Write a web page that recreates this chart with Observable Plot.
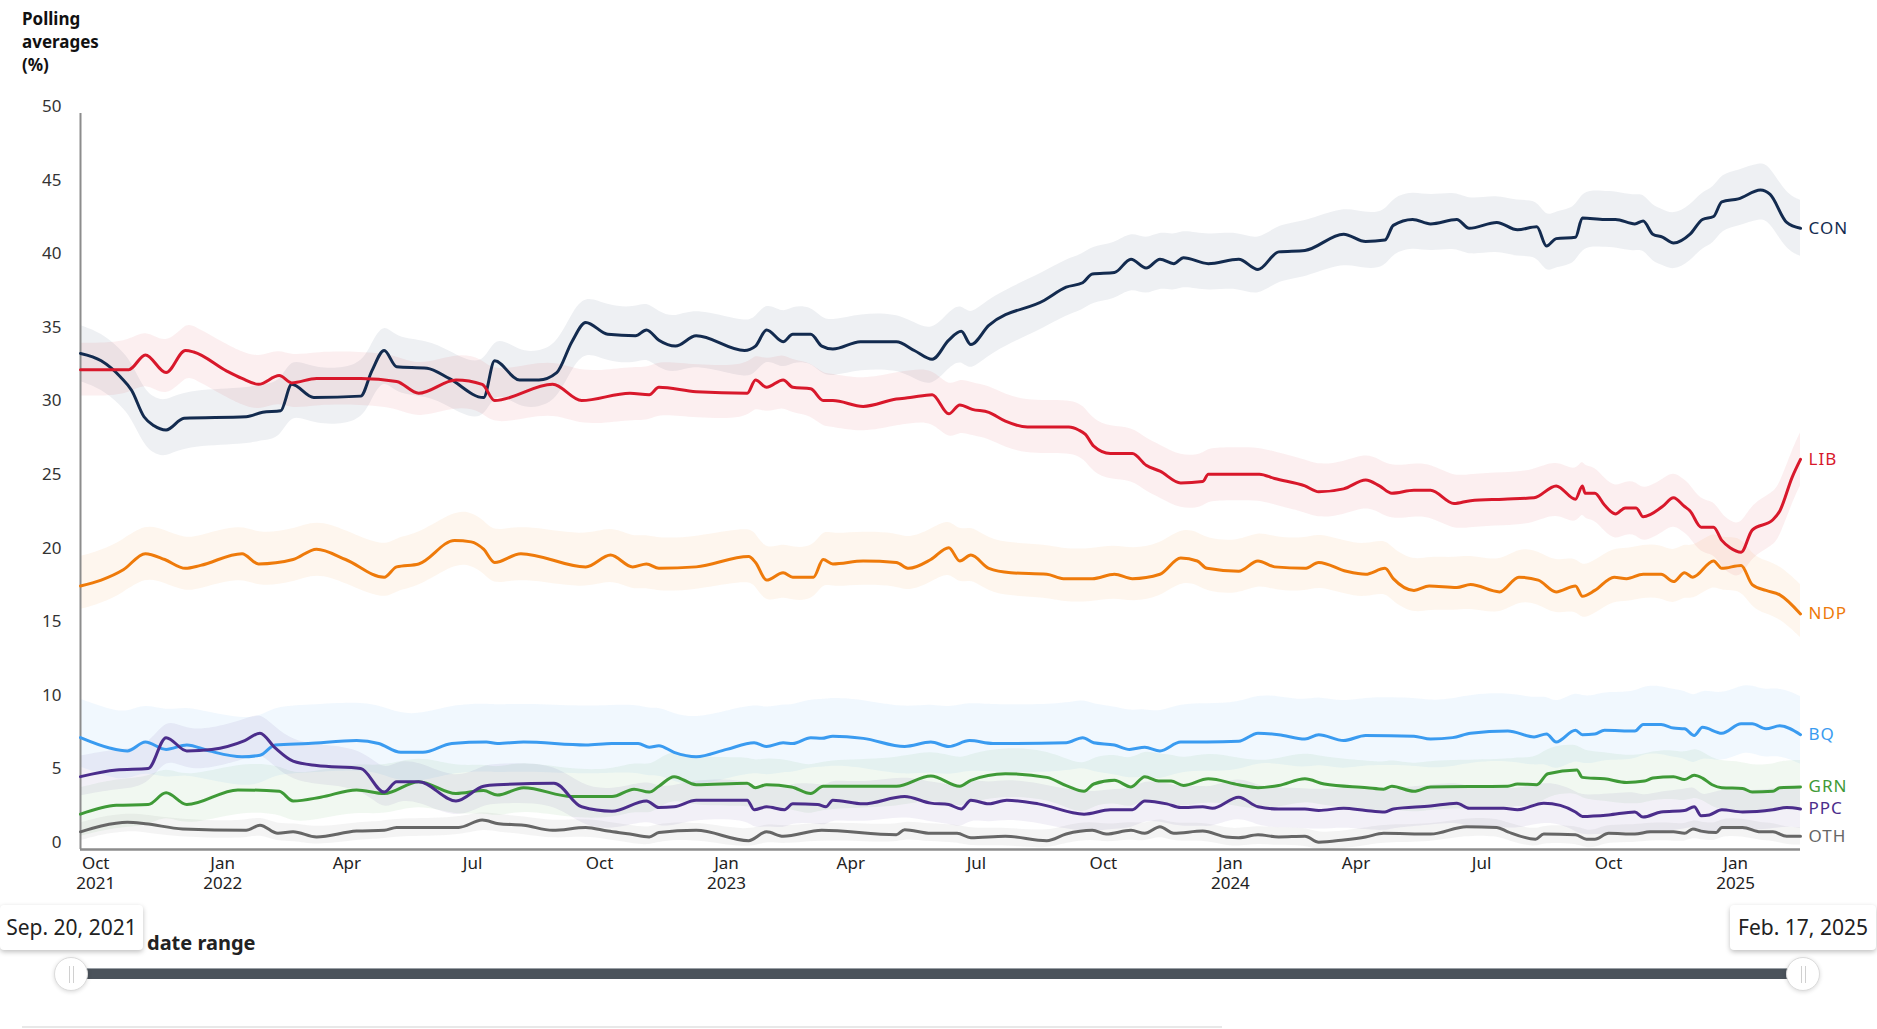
<!DOCTYPE html>
<html>
<head>
<meta charset="utf-8">
<script src="https://cdn.jsdelivr.net/npm/d3@7"></script>
<script src="https://cdn.jsdelivr.net/npm/@observablehq/plot@0.6"></script>
<style>
  html, body { margin:0; padding:0; background:#fff; }
  body { width:1877px; height:1029px; overflow:hidden; position:relative; font-family:"Noto Sans", sans-serif; }
  #title { position:absolute; left:22px; top:7px; font-weight:700; font-size:17px; line-height:23px; color:#111; }
  #chart { position:absolute; left:0; top:92px; }
  #rangeLabel { position:absolute; left:147px; top:929px; font-weight:700; font-size:20px; color:#222; }
  #track { position:absolute; left:70px; top:968px; width:1733px; height:11px; background:#4b535b; border-top:1px solid #9aa0a6; box-sizing:border-box; }
  .handle { position:absolute; width:34px; height:34px; border-radius:50%; background:#fff; border:1px solid #dcdcdc; box-shadow:0 1px 4px rgba(0,0,0,0.15); box-sizing:border-box; }
  .handle::before, .handle::after { content:""; position:absolute; top:8px; width:1px; height:17px; background:#d0d0d0; }
  .handle::before { left:14px; } .handle::after { left:18px; }
  .tip { position:absolute; top:905px; height:45px; background:#fff; border-radius:4px; box-shadow:0 2px 5px rgba(0,0,0,0.25); font-size:21px; color:#222; line-height:45px; text-align:center; white-space:nowrap; }
  #bottomLine { position:absolute; left:22px; top:1026px; width:1200px; height:2px; background:#e8e8e8; }
</style>
</head>
<body>
<div id="title">Polling<br>averages<br>(%)</div>
<div id="chart"></div>
<div id="rangeLabel">date range</div>
<div id="track"></div>
<div class="handle" style="left:54px; top:957px;"></div>
<div class="handle" style="left:1786px; top:957px;"></div>
<div class="tip" style="left:0; width:143px;">Sep. 20, 2021</div>
<div class="tip" style="left:1730px; width:146px;">Feb. 17, 2025</div>
<div id="bottomLine"></div>
<script>
const parties = ["CON","LIB","NDP","BQ","GRN","PPC","OTH"];
const partyColors = ["#132b4f","#d8182b","#ee7a0a","#3a9bf0","#3f9a37","#4b2d8b","#666666"];
const bandUp = [1.9, 1.8, 2.0, 2.6, 1.8, 1.4, 0.6];
const bandDown = [1.9, 1.8, 1.6, 2.0, 1.5, 1.3, 0.6];
const yTicks = [0,5,10,15,20,25,30,35,40,45,50];
const xTicks = ["2021-10-01","2022-01-01","2022-04-01","2022-07-01","2022-10-01","2023-01-01","2023-04-01","2023-07-01","2023-10-01","2024-01-01","2024-04-01","2024-07-01","2024-10-01","2025-01-01"];
const dateRange = ["2021-09-20","2025-02-17"];

const CON = [["2021-09-20",33.7],["2021-10-05",33.2],["2021-10-19",32.1],["2021-10-27",31.2],["2021-11-05",29.4],["2021-11-12",28.8],["2021-11-21",28.5],["2021-12-04",29.3],["2022-01-18",29.4],["2022-01-30",29.7],["2022-02-12",29.8],["2022-02-20",31.6],["2022-03-08",30.7],["2022-04-11",30.8],["2022-04-19",32.5],["2022-04-28",33.9],["2022-05-07",32.8],["2022-05-29",32.7],["2022-06-14",32.0],["2022-07-09",30.7],["2022-07-17",33.2],["2022-08-04",31.9],["2022-08-18",31.9],["2022-08-31",32.4],["2022-09-11",34.5],["2022-09-21",35.8],["2022-10-07",35.0],["2022-10-27",34.9],["2022-11-04",35.3],["2022-11-13",34.6],["2022-11-25",34.2],["2022-12-10",34.9],["2023-01-14",33.9],["2023-01-22",34.2],["2023-01-30",35.3],["2023-02-11",34.5],["2023-02-18",35.0],["2023-03-03",35.0],["2023-03-11",34.2],["2023-03-19",34.0],["2023-04-08",34.5],["2023-05-04",34.5],["2023-05-17",33.9],["2023-05-30",33.3],["2023-06-11",34.6],["2023-06-20",35.2],["2023-06-27",34.3],["2023-07-10",35.6],["2023-08-19",37.3],["2023-09-04",38.2],["2023-09-16",38.5],["2023-09-23",39.1],["2023-10-09",39.2],["2023-10-21",40.1],["2023-11-01",39.5],["2023-11-11",40.1],["2023-11-21",39.8],["2023-11-28",40.2],["2023-12-16",39.8],["2024-01-07",40.1],["2024-01-21",39.4],["2024-02-05",40.6],["2024-02-24",40.7],["2024-03-23",41.8],["2024-04-08",41.3],["2024-04-22",41.4],["2024-04-28",42.4],["2024-05-12",42.8],["2024-05-25",42.5],["2024-06-13",42.8],["2024-06-22",42.2],["2024-07-12",42.6],["2024-07-27",42.1],["2024-08-10",42.3],["2024-08-17",41.0],["2024-08-24",41.5],["2024-09-07",41.6],["2024-09-12",42.9],["2024-09-28",42.8],["2024-10-06",42.8],["2024-10-20",42.5],["2024-10-26",42.7],["2024-11-02",41.8],["2024-11-09",41.6],["2024-11-17",41.2],["2024-11-29",41.8],["2024-12-08",42.8],["2024-12-16",43.0],["2024-12-22",44.0],["2025-01-03",44.2],["2025-01-19",44.8],["2025-01-26",44.5],["2025-02-07",42.6],["2025-02-17",42.2]];

const LIB = [["2021-09-20",32.6],["2021-10-25",32.6],["2021-11-06",33.6],["2021-11-21",32.4],["2021-12-05",33.9],["2021-12-11",33.8],["2022-01-04",32.5],["2022-01-15",32.0],["2022-01-27",31.6],["2022-02-11",32.2],["2022-02-20",31.7],["2022-03-10",32.0],["2022-04-11",32.0],["2022-05-07",31.8],["2022-05-23",31.0],["2022-06-19",31.9],["2022-07-08",31.6],["2022-07-17",30.5],["2022-08-28",31.6],["2022-09-18",30.5],["2022-10-23",31.0],["2022-11-06",30.9],["2022-11-13",31.4],["2022-12-10",31.1],["2023-01-16",31.0],["2023-01-22",31.9],["2023-01-30",31.4],["2023-02-11",31.9],["2023-02-18",31.4],["2023-03-03",31.3],["2023-03-12",30.5],["2023-03-19",30.5],["2023-04-10",30.1],["2023-05-04",30.6],["2023-05-14",30.7],["2023-05-30",30.9],["2023-06-11",29.6],["2023-06-19",30.2],["2023-06-28",29.9],["2023-07-10",29.7],["2023-07-22",29.1],["2023-08-07",28.7],["2023-08-21",28.7],["2023-09-06",28.7],["2023-09-13",28.5],["2023-09-18",28.2],["2023-09-24",27.4],["2023-10-06",26.9],["2023-10-22",26.9],["2023-11-01",26.1],["2023-11-11",25.7],["2023-11-26",24.9],["2023-12-12",25.0],["2023-12-16",25.5],["2024-01-07",25.5],["2024-01-22",25.5],["2024-02-02",25.2],["2024-02-24",24.7],["2024-03-05",24.3],["2024-03-23",24.5],["2024-04-08",25.1],["2024-04-18",24.7],["2024-04-27",24.2],["2024-05-13",24.4],["2024-05-25",24.4],["2024-06-11",23.5],["2024-06-23",23.7],["2024-07-17",23.8],["2024-08-08",23.9],["2024-08-24",24.7],["2024-09-07",23.8],["2024-09-12",24.7],["2024-09-14",24.2],["2024-09-21",24.2],["2024-09-28",23.4],["2024-10-06",22.8],["2024-10-13",23.2],["2024-10-21",23.2],["2024-10-26",22.6],["2024-11-09",23.3],["2024-11-17",23.9],["2024-11-25",23.3],["2024-11-29",23.0],["2024-12-07",21.9],["2024-12-16",21.9],["2024-12-22",21.0],["2024-12-28",20.5],["2025-01-05",20.2],["2025-01-13",21.7],["2025-01-28",22.4],["2025-02-02",23.0],["2025-02-11",25.3],["2025-02-17",26.5]];

const NDP = [["2021-09-20",17.9],["2021-10-05",18.3],["2021-10-21",19.0],["2021-11-06",20.1],["2021-11-20",19.7],["2021-12-05",19.1],["2021-12-16",19.3],["2022-01-15",20.1],["2022-01-27",19.4],["2022-02-21",19.7],["2022-03-10",20.4],["2022-03-31",19.7],["2022-04-28",18.5],["2022-05-07",19.2],["2022-05-23",19.4],["2022-06-18",21.0],["2022-06-30",20.9],["2022-07-09",20.4],["2022-07-17",19.5],["2022-08-05",20.1],["2022-09-21",19.2],["2022-10-09",20.0],["2022-10-25",19.2],["2022-11-04",19.4],["2022-11-13",19.1],["2022-12-10",19.2],["2023-01-17",19.9],["2023-01-22",19.5],["2023-01-30",18.3],["2023-02-11",18.8],["2023-02-18",18.5],["2023-03-05",18.5],["2023-03-12",19.7],["2023-03-19",19.4],["2023-04-10",19.6],["2023-05-04",19.5],["2023-05-13",19.1],["2023-05-29",19.7],["2023-06-11",20.5],["2023-06-19",19.6],["2023-06-27",20.0],["2023-07-10",19.1],["2023-07-26",18.8],["2023-08-21",18.7],["2023-09-02",18.4],["2023-09-23",18.4],["2023-10-09",18.7],["2023-10-22",18.4],["2023-11-11",18.7],["2023-11-26",19.8],["2023-12-08",19.6],["2023-12-15",19.1],["2024-01-07",18.9],["2024-01-21",19.6],["2024-02-02",19.2],["2024-02-24",19.1],["2024-03-05",19.5],["2024-03-25",18.9],["2024-04-08",18.7],["2024-04-22",19.1],["2024-04-28",18.4],["2024-05-13",17.6],["2024-05-24",17.9],["2024-06-13",17.8],["2024-06-23",18.0],["2024-07-14",17.5],["2024-07-28",18.5],["2024-08-11",18.3],["2024-08-24",17.5],["2024-09-07",17.9],["2024-09-12",17.2],["2024-09-21",17.6],["2024-10-05",18.5],["2024-10-14",18.4],["2024-10-26",18.7],["2024-11-08",18.7],["2024-11-17",18.2],["2024-11-25",18.8],["2024-12-01",18.5],["2024-12-16",19.6],["2024-12-22",19.1],["2025-01-05",19.3],["2025-01-13",18.0],["2025-01-23",17.6],["2025-02-02",17.3],["2025-02-17",16.0]];

const BQ = [["2021-09-20",7.6],["2021-10-11",6.9],["2021-10-24",6.7],["2021-11-06",7.3],["2021-11-21",6.8],["2021-12-06",7.1],["2021-12-22",6.7],["2022-01-15",6.3],["2022-01-28",6.4],["2022-02-08",7.1],["2022-03-04",7.2],["2022-04-08",7.4],["2022-04-24",7.2],["2022-05-10",6.6],["2022-05-26",6.6],["2022-06-16",7.2],["2022-07-11",7.3],["2022-07-19",7.2],["2022-08-07",7.3],["2022-09-21",7.1],["2022-10-10",7.2],["2022-10-29",7.2],["2022-11-06",6.95],["2022-11-13",7.05],["2022-11-24",6.6],["2022-12-10",6.3],["2023-01-01",6.8],["2023-01-21",7.25],["2023-01-30",7.0],["2023-02-11",7.25],["2023-02-18",7.2],["2023-03-03",7.6],["2023-03-11",7.55],["2023-03-19",7.7],["2023-04-10",7.55],["2023-05-10",7.0],["2023-05-29",7.3],["2023-06-11",7.0],["2023-06-26",7.4],["2023-07-13",7.2],["2023-09-04",7.25],["2023-09-16",7.6],["2023-09-24",7.25],["2023-10-09",7.1],["2023-10-20",6.8],["2023-10-31",6.95],["2023-11-11",6.7],["2023-11-26",7.3],["2023-12-15",7.3],["2024-01-07",7.35],["2024-01-21",7.9],["2024-02-05",7.8],["2024-02-24",7.5],["2024-03-05",7.8],["2024-03-23",7.4],["2024-04-08",7.75],["2024-05-13",7.7],["2024-05-25",7.5],["2024-06-10",7.6],["2024-06-23",7.9],["2024-07-20",8.05],["2024-08-08",7.65],["2024-08-17",7.85],["2024-08-24",7.3],["2024-09-07",8.1],["2024-09-12",7.8],["2024-09-21",7.85],["2024-09-28",8.1],["2024-10-20",8.05],["2024-10-26",8.5],["2024-11-08",8.5],["2024-11-17",8.25],["2024-11-25",8.2],["2024-12-02",7.75],["2024-12-08",8.3],["2024-12-22",7.9],["2025-01-05",8.55],["2025-01-13",8.55],["2025-01-23",8.2],["2025-02-02",8.4],["2025-02-17",7.8]];

const GRN = [["2021-09-20",2.4],["2021-10-16",3.0],["2021-11-08",3.05],["2021-11-21",3.85],["2021-12-06",3.05],["2022-01-12",4.05],["2022-02-11",3.95],["2022-02-21",3.3],["2022-03-13",3.55],["2022-04-08",4.05],["2022-04-28",3.8],["2022-05-23",4.6],["2022-06-19",3.8],["2022-07-09",4.0],["2022-07-19",3.7],["2022-08-07",4.2],["2022-09-11",3.6],["2022-10-10",3.6],["2022-10-26",4.1],["2022-11-06",3.9],["2022-11-13",4.3],["2022-11-24",4.95],["2022-12-10",4.4],["2023-01-16",4.5],["2023-01-22",4.2],["2023-01-30",4.4],["2023-02-17",4.25],["2023-03-03",3.8],["2023-03-12",4.3],["2023-05-04",4.3],["2023-05-29",5.0],["2023-06-19",4.3],["2023-06-27",4.7],["2023-07-22",5.15],["2023-08-21",4.9],["2023-09-05",4.3],["2023-09-17",3.95],["2023-09-24",4.45],["2023-10-09",4.7],["2023-10-21",4.25],["2023-10-31",4.95],["2023-11-10",4.65],["2023-11-19",4.65],["2023-11-28",4.35],["2023-12-16",4.8],["2024-01-07",4.4],["2024-01-21",4.2],["2024-02-05",4.35],["2024-02-24",4.8],["2024-03-09",4.45],["2024-04-09",4.2],["2024-04-21",4.1],["2024-04-27",4.3],["2024-05-13",3.95],["2024-05-25",4.25],["2024-07-20",4.3],["2024-07-27",4.45],["2024-08-10",4.4],["2024-08-18",5.15],["2024-09-08",5.4],["2024-09-12",4.9],["2024-09-28",4.8],["2024-10-14",4.55],["2024-10-27",4.65],["2024-11-02",4.85],["2024-11-17",4.95],["2024-11-25",4.75],["2024-12-02",5.05],["2024-12-08",4.85],["2024-12-15",4.4],["2024-12-22",4.2],["2025-01-06",4.15],["2025-01-13",3.9],["2025-01-28",3.95],["2025-02-02",4.2],["2025-02-17",4.25]];

const PPC = [["2021-09-20",4.95],["2021-10-16",5.4],["2021-11-08",5.5],["2021-11-21",7.6],["2021-12-06",6.7],["2021-12-24",6.8],["2022-01-17",7.4],["2022-01-28",7.9],["2022-02-08",6.9],["2022-02-21",6.0],["2022-03-10",5.7],["2022-04-11",5.5],["2022-04-28",3.9],["2022-05-07",4.6],["2022-05-23",4.6],["2022-06-19",3.3],["2022-07-09",4.3],["2022-07-19",4.4],["2022-08-29",4.5],["2022-09-18",2.9],["2022-10-10",2.6],["2022-11-04",3.3],["2022-11-13",2.85],["2022-11-24",2.9],["2022-12-10",3.35],["2023-01-16",3.35],["2023-01-21",2.7],["2023-01-30",2.9],["2023-02-12",2.7],["2023-02-18",3.1],["2023-03-08",3.05],["2023-03-14",2.9],["2023-03-19",3.35],["2023-04-10",3.1],["2023-05-10",3.6],["2023-05-29",3.15],["2023-06-11",3.05],["2023-06-20",2.75],["2023-06-27",3.35],["2023-07-10",3.1],["2023-07-23",3.35],["2023-08-15",3.1],["2023-09-17",2.4],["2023-10-06",2.7],["2023-10-22",2.7],["2023-10-31",3.3],["2023-11-16",3.1],["2023-11-26",2.85],["2023-12-12",2.9],["2023-12-19",2.8],["2024-01-07",3.55],["2024-01-21",2.9],["2024-02-05",2.75],["2024-02-24",2.75],["2024-03-05",2.65],["2024-03-23",2.8],["2024-04-08",2.65],["2024-04-22",2.55],["2024-04-28",2.75],["2024-05-25",2.95],["2024-06-13",3.15],["2024-06-22",2.8],["2024-07-17",2.8],["2024-07-27",2.7],["2024-08-15",3.15],["2024-08-27",3.0],["2024-09-07",2.55],["2024-09-12",2.25],["2024-10-01",2.35],["2024-10-20",2.55],["2024-10-26",2.2],["2024-11-08",2.55],["2024-11-25",2.65],["2024-12-02",2.9],["2024-12-07",2.3],["2024-12-13",2.35],["2024-12-22",2.7],["2025-01-06",2.55],["2025-01-28",2.7],["2025-02-07",2.85],["2025-02-17",2.75]];

const OTH = [["2021-09-20",1.2],["2021-10-05",1.6],["2021-10-24",1.85],["2021-11-06",1.75],["2021-12-03",1.4],["2022-01-18",1.3],["2022-01-28",1.65],["2022-02-10",1.1],["2022-02-21",1.2],["2022-03-10",0.85],["2022-04-08",1.25],["2022-04-28",1.3],["2022-05-07",1.5],["2022-06-21",1.5],["2022-07-08",2.0],["2022-07-20",1.75],["2022-08-07",1.65],["2022-08-28",1.3],["2022-09-21",1.5],["2022-10-07",1.25],["2022-10-23",1.05],["2022-11-06",0.85],["2022-11-13",1.15],["2022-12-10",1.3],["2023-01-17",0.6],["2023-01-30",1.2],["2023-02-11",0.9],["2023-03-11",1.3],["2023-05-04",1.0],["2023-05-10",1.35],["2023-05-29",1.1],["2023-06-17",1.1],["2023-06-27",0.8],["2023-07-22",0.9],["2023-08-21",0.6],["2023-09-04",1.05],["2023-09-23",1.3],["2023-10-03",1.05],["2023-10-21",1.3],["2023-10-31",1.1],["2023-11-11",1.55],["2023-11-21",1.1],["2023-12-12",1.25],["2023-12-29",0.85],["2024-01-07",0.8],["2024-01-21",1.0],["2024-02-05",0.85],["2024-02-24",0.9],["2024-03-05",0.5],["2024-03-23",0.65],["2024-04-08",0.85],["2024-04-21",1.1],["2024-05-25",1.05],["2024-06-20",1.55],["2024-07-12",1.5],["2024-07-20",1.2],["2024-08-09",0.7],["2024-08-15",1.05],["2024-09-07",1.0],["2024-09-15",0.7],["2024-09-21",0.7],["2024-10-01",1.1],["2024-10-20",1.05],["2024-10-31",1.2],["2024-11-17",1.2],["2024-11-25",1.1],["2024-12-01",1.4],["2024-12-07",1.25],["2024-12-18",1.15],["2024-12-22",1.5],["2025-01-06",1.5],["2025-01-19",1.2],["2025-01-28",1.2],["2025-02-07",0.9],["2025-02-17",0.9]];

const seriesList = [CON, LIB, NDP, BQ, GRN, PPC, OTH];
const rows = parties.flatMap((p, i) => seriesList[i].map(([d, v]) => ({
  party: p, date: new Date(d + "T00:00:00Z"), value: v, lo: v - bandDown[i], hi: v + bandUp[i]
})));
const startDate = new Date(dateRange[0] + "T00:00:00Z");
const endDate = new Date(dateRange[1] + "T00:00:00Z");
const xTickDates = xTicks.map(d => new Date(d + "T00:00:00Z"));

const fmtMon = d3.utcFormat("%b"), fmtYear = d3.utcFormat("%Y");

const chart = Plot.plot({
  width: 1877, height: 808,
  marginLeft: 80, marginRight: 77, marginTop: 21, marginBottom: 51,
  x: { type: "utc", domain: [startDate, endDate] },
  y: { domain: [0, 50] },
  color: { domain: parties, range: partyColors },
  style: { fontFamily: "'Noto Sans', sans-serif", fontSize: "17px", color: "#333", background: "white", overflow: "visible" },
  marks: [
    Plot.areaY(rows, { x: "date", y1: "lo", y2: "hi", z: "party", fill: "party", fillOpacity: 0.07, curve: "basis" }),
    Plot.ruleY([0], { stroke: "#8c8c8c", strokeWidth: 2.5 }),
    Plot.ruleX([startDate], { y1: 0, y2: 50, stroke: "#8c8c8c", strokeWidth: 2 }),
    Plot.axisY({ ticks: yTicks, tickSize: 0, tickPadding: 19, dy: -7, fontSize: 17, fill: "#333", label: null }),
    Plot.axisX({ ticks: xTickDates, tickSize: 0, tickPadding: 6, fontSize: 17, fill: "#222", label: null, lineHeight: 1.15,
      tickFormat: (d, i) => fmtMon(d) + ((i === 0 || d.getUTCMonth() === 0) ? "\n" + fmtYear(d) : "") }),
    Plot.line(rows, { x: "date", y: "value", z: "party", stroke: "party", strokeWidth: 3, curve: "monotone-x" }),
    Plot.text(rows, Plot.selectLast({ x: "date", y: "value", z: "party", text: "party", fill: "party",
      dx: 8, dy: 0, textAnchor: "start", fontSize: 17 }))
  ]
});
chart.querySelectorAll('g[aria-label="text"] text').forEach(t => t.style.letterSpacing = "1px");
document.getElementById("chart").appendChild(chart);
</script>
</body>
</html>
